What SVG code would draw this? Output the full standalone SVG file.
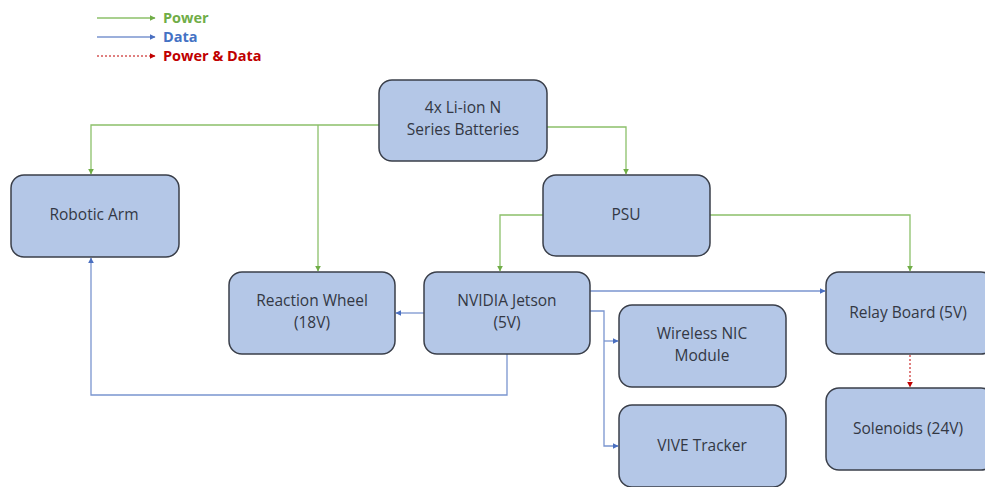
<svg xmlns="http://www.w3.org/2000/svg" width="985" height="487" viewBox="0 0 985 487">
  <style>
    .box { fill: #B4C7E7; stroke: #3A3F4A; stroke-width: 1.5; }
    .lbl { font-family: "Open Sans", "Liberation Sans", sans-serif; font-size: 15.5px; fill: #333844; text-anchor: middle; }
    .pw { fill: none; stroke: #8CC06A; stroke-width: 1.3; }
    .dt { fill: none; stroke: #7A95CF; stroke-width: 1.3; }
    .pd { fill: none; stroke: #C00000; stroke-width: 1; stroke-dasharray: 2 2; }
    .leg { font-family: "Open Sans", "Liberation Sans", sans-serif; font-size: 14.5px; font-weight: bold; }
  </style>
  <defs>
    <marker id="ag" viewBox="0 0 10 10" refX="9" refY="5" markerWidth="6" markerHeight="6" orient="auto" markerUnits="userSpaceOnUse">
      <path d="M0,0 L10,5 L0,10 z" fill="#70AD47"/>
    </marker>
    <marker id="ab" viewBox="0 0 10 10" refX="9" refY="5" markerWidth="6" markerHeight="6" orient="auto" markerUnits="userSpaceOnUse">
      <path d="M0,0 L10,5 L0,10 z" fill="#4A6FC0"/>
    </marker>
    <marker id="ar" viewBox="0 0 10 10" refX="9" refY="5" markerWidth="6" markerHeight="6" orient="auto" markerUnits="userSpaceOnUse">
      <path d="M0,0 L10,5 L0,10 z" fill="#C00000"/>
    </marker>
  </defs>

  <!-- legend -->
  <g id="legend">
    <line class="pw" x1="97" y1="18" x2="155" y2="18" marker-end="url(#ag)"/>
    <text class="leg" x="163" y="23" fill="#70AD47">Power</text>
    <line class="dt" x1="97" y1="37" x2="155" y2="37" marker-end="url(#ab)"/>
    <text class="leg" x="163" y="42" fill="#4472C4">Data</text>
    <line class="pd" x1="97" y1="56" x2="155" y2="56" marker-end="url(#ar)"/>
    <text class="leg" x="163" y="61" fill="#C00000">Power &amp; Data</text>
  </g>

  <!-- connectors -->
  <g id="connectors">
    <!-- power -->
    <polyline class="pw" points="379,125 91,125 91,174" marker-end="url(#ag)"/>
    <polyline class="pw" points="318,125 318,271" marker-end="url(#ag)"/>
    <polyline class="pw" points="547,127 626,127 626,174" marker-end="url(#ag)"/>
    <polyline class="pw" points="543,215 500,215 500,271" marker-end="url(#ag)"/>
    <polyline class="pw" points="710,215 910,215 910,271" marker-end="url(#ag)"/>
    <!-- data -->
    <polyline class="dt" points="590,291 825,291" marker-end="url(#ab)"/>
    <polyline class="dt" points="424,313 396,313" marker-end="url(#ab)"/>
    <polyline class="dt" points="590,311 604,311 604,446 618,446" marker-end="url(#ab)"/>
    <polyline class="dt" points="604,341 618,341" marker-end="url(#ab)"/>
    <polyline class="dt" points="507,354 507,395 91,395 91,258" marker-end="url(#ab)"/>
    <!-- power & data -->
    <polyline class="pd" points="910,355 910,387" marker-end="url(#ar)"/>
  </g>

  <!-- nodes -->
  <g id="batteries">
    <rect class="box" x="379" y="80" width="168" height="81" rx="13"/>
    <text class="lbl" x="463" y="113">4x Li-ion N</text>
    <text class="lbl" x="463" y="135">Series Batteries</text>
  </g>
  <g id="robotic-arm">
    <rect class="box" x="11" y="175" width="168" height="82" rx="13"/>
    <text class="lbl" x="94" y="220">Robotic Arm</text>
  </g>
  <g id="psu">
    <rect class="box" x="543" y="175" width="167" height="81" rx="13"/>
    <text class="lbl" x="626" y="220">PSU</text>
  </g>
  <g id="reaction-wheel">
    <rect class="box" x="229" y="272" width="166" height="82" rx="13"/>
    <text class="lbl" x="312" y="306">Reaction Wheel</text>
    <text class="lbl" x="312" y="328">(18V)</text>
  </g>
  <g id="jetson">
    <rect class="box" x="424" y="272" width="166" height="82" rx="13"/>
    <text class="lbl" x="507" y="306">NVIDIA Jetson</text>
    <text class="lbl" x="507" y="328">(5V)</text>
  </g>
  <g id="relay-board">
    <rect class="box" x="826" y="272" width="168" height="82" rx="13"/>
    <text class="lbl" x="908" y="318">Relay Board (5V)</text>
  </g>
  <g id="wireless-nic">
    <rect class="box" x="619" y="305" width="167" height="82" rx="13"/>
    <text class="lbl" x="702" y="339">Wireless NIC</text>
    <text class="lbl" x="702" y="361">Module</text>
  </g>
  <g id="vive-tracker">
    <rect class="box" x="619" y="405" width="167" height="82" rx="13"/>
    <text class="lbl" x="702" y="451">VIVE Tracker</text>
  </g>
  <g id="solenoids">
    <rect class="box" x="826" y="388" width="168" height="82" rx="13"/>
    <text class="lbl" x="908" y="434">Solenoids (24V)</text>
  </g>
</svg>
